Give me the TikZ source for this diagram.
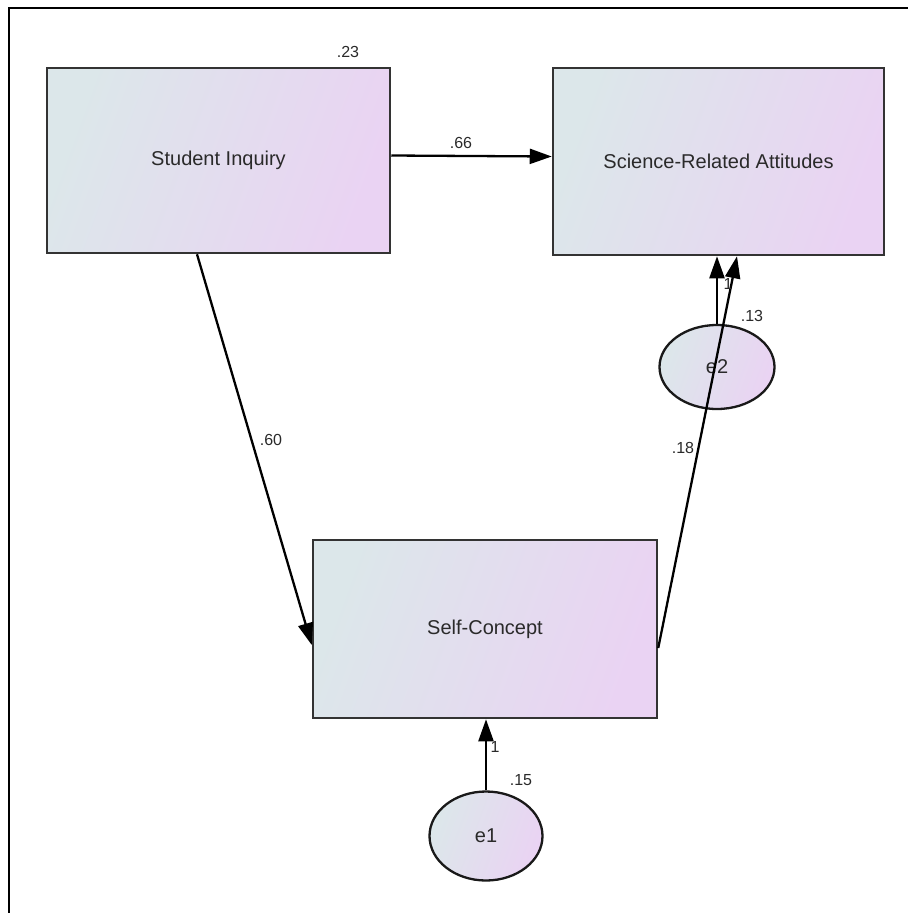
\documentclass[tikz,border=0pt]{standalone}
\usepackage{fontspec}
\setmainfont{Liberation Sans}
\usetikzlibrary{arrows.meta,shapes.geometric}
\definecolor{cA}{HTML}{DCE7EA}
\definecolor{cB}{HTML}{EAD3F3}
\definecolor{txt}{HTML}{2A2A2A}
\begin{document}
\begin{tikzpicture}[x=1pt,y=-1pt,
  varbox/.style={draw=black!80,line width=2.5pt,rectangle,left color=cA,right color=cB,shading angle=70,
     inner sep=0pt,font=\fontsize{20}{23}\selectfont,text=txt},
  errell/.style={draw=black!90,line width=2.3pt,ellipse,left color=cA,right color=cB,shading angle=70,
     inner sep=0pt,font=\fontsize{20}{23}\selectfont,text=txt},
  conn/.style={line width=2.3pt,-{Triangle[length=22pt,width=15pt]}},
  lab/.style={font=\fontsize{16}{18}\selectfont,text=txt,inner sep=0pt}]
\useasboundingbox (0,0) rectangle (908,913);
\fill[white] (0,0) rectangle (908,913);
\draw[line width=2.4pt] (9,913) -- (9,8) -- (908,8);
\node[varbox,minimum width=343pt,minimum height=185pt] (si) at (218.5,160.5) {Student Inquiry};
\node[varbox,minimum width=331pt,minimum height=187pt] (sra) at (718.5,161.5) {Science-Related Attitudes};
\node[varbox,minimum width=344pt,minimum height=178pt] (sc) at (485,629) {Self-Concept};
\node[errell,minimum width=115pt,minimum height=84pt] (e2) at (717,367) {e2};
\node[errell,minimum width=113pt,minimum height=89pt] (e1) at (486,836) {e1};
\draw[conn] ([yshift=5pt]si.east) -- ([yshift=5pt]sra.west);
\draw[conn] ([xshift=-21.5pt]si.south) -- ([yshift=-16pt]sc.west);
\draw[conn] (e2.north) -- (e2.north |- sra.south);
\draw[conn] ([yshift=-19pt]sc.east) -- ([xshift=18.5pt]sra.south);
\draw[conn] (e1.north) -- (e1.north |- sc.south);
\node[lab] (l23) at (348,52) {.23};
\node[lab] (l66) at (461,143) {.66};
\node[lab] (l60) at (271,440) {.60};
\node[lab] (l18) at (683,448) {.18};
\node[lab] (l13) at (752,316) {.13};
\node[lab] (l1b) at (728,284) {1};
\node[lab] (l1a) at (495,747) {1};
\node[lab] (l15) at (521,780) {.15};
\end{tikzpicture}
\end{document}
